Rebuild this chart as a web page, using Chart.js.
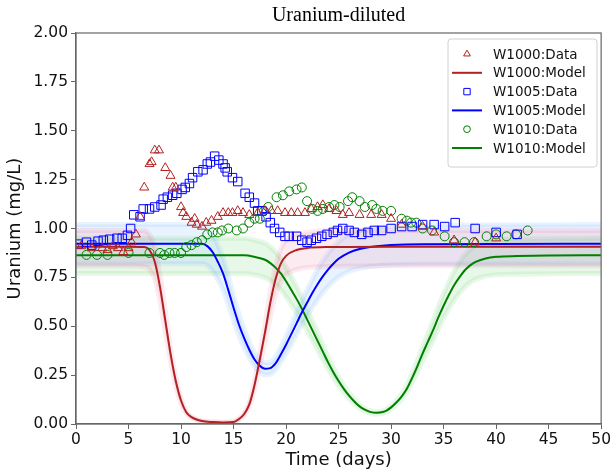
<!DOCTYPE html>
<html>
<head>
<meta charset="utf-8">
<script src="https://cdn.jsdelivr.net/npm/chart.js@4.4.0/dist/chart.umd.min.js"></script>
<style>
  html, body { margin: 0; padding: 0; background: #fff; }
</style>
</head>
<body>
<canvas id="chart" width="613" height="475"></canvas>
<script>
// Titel und Achsen
const chartTitle = "Uranium-diluted";
const xTitle = "Time (days)";
const yTitle = "Uranium (mg/L)";

// Messwerte [Tag, mg/L]
const w1000Data = [[0.5,0.91],[1.5,0.90],[2.5,0.90],[3.0,0.89],[3.5,0.91],[4.0,0.90],[4.5,0.88],[5.0,0.90],[5.3,0.93],[5.7,0.97],
  [6.1,1.06],[6.5,1.21],[7.0,1.33],[7.2,1.34],[7.5,1.40],[7.9,1.40],[8.5,1.31],[9.0,1.27],[9.2,1.21],[9.5,1.21],[10.0,1.11],
  [10.2,1.08],[10.5,1.06],[11.0,1.03],[11.3,1.05],[11.5,1.02],[12.0,1.01],[12.4,1.03],[12.9,1.04],[13.5,1.06],[14.0,1.08],
  [14.5,1.08],[14.9,1.08],[15.4,1.09],[15.9,1.08],[16.5,1.07],[17.3,1.08],[18.0,1.09],[18.6,1.09],[19.2,1.09],[19.9,1.08],
  [20.5,1.08],[21.1,1.08],[21.8,1.08],[22.4,1.10],[23.0,1.11],[23.5,1.12],[24.1,1.10],[24.8,1.09],[25.4,1.07],[26.0,1.08],
  [27.0,1.07],[28.1,1.07],[29.1,1.07],[30.0,1.05],[31.0,1.02],[33.0,1.01],[34.1,0.98],[36.0,0.94],[38.0,0.93],[40.0,0.95]];

const w1005Data = [[0.2,0.92],[1.0,0.93],[1.5,0.915],[2.1,0.935],[2.6,0.94],[3.2,0.945],[3.9,0.95],[4.4,0.95],[4.9,0.965],[5.2,1.0],
  [5.5,1.07],[6.1,1.06],[6.4,1.10],[7.0,1.10],[7.5,1.11],[8.1,1.12],[8.3,1.15],[8.7,1.16],[9.2,1.17],[9.6,1.18],[10.1,1.20],
  [10.4,1.21],[10.8,1.23],[11.1,1.26],[11.6,1.29],[12.1,1.30],[12.5,1.33],[12.8,1.34],[13.2,1.37],[13.6,1.35],[14.0,1.33],
  [14.2,1.31],[14.4,1.29],[14.9,1.26],[15.4,1.24],[16.1,1.18],[16.5,1.16],[17.0,1.13],[17.3,1.09],[17.7,1.09],[18.1,1.06],
  [18.5,1.03],[18.9,1.00],[19.4,0.98],[19.9,0.96],[20.3,0.96],[21.0,0.96],[21.5,0.94],[22.0,0.93],[22.4,0.94],[22.9,0.95],
  [23.4,0.96],[23.9,0.97],[24.5,0.98],[24.9,0.99],[25.4,1.00],[26.0,0.99],[26.5,0.98],[27.2,0.97],[27.8,0.98],[28.4,0.99],
  [29.1,0.99],[30.0,1.00],[31.0,1.01],[32.0,1.01],[33.0,1.02],[34.1,1.02],[35.1,1.01],[36.1,1.03],[38.0,1.00],[40.0,0.98],[42.0,0.97]];

const w1010Data = [[1.0,0.865],[2.0,0.865],[3.0,0.865],[5.0,0.875],[7.0,0.875],[8.0,0.875],[8.4,0.865],[8.9,0.875],[9.4,0.875],
  [10.0,0.875],[10.5,0.905],[11.0,0.915],[11.5,0.93],[12.0,0.94],[12.5,0.97],[13.0,0.98],[13.5,0.98],[13.9,0.99],[14.5,1.00],
  [15.3,0.99],[15.9,1.00],[16.5,1.03],[17.0,1.05],[17.5,1.05],[17.9,1.09],[18.3,1.11],[19.1,1.16],[19.7,1.17],[20.3,1.19],
  [21.0,1.20],[21.5,1.21],[22.0,1.14],[22.5,1.10],[23.0,1.09],[23.5,1.10],[24.1,1.11],[24.6,1.12],[25.1,1.11],[25.9,1.14],
  [26.3,1.16],[27.0,1.14],[27.5,1.11],[28.2,1.12],[28.6,1.10],[29.2,1.09],[30.0,1.09],[31.0,1.05],[31.5,1.04],[31.9,1.03],
  [32.4,1.03],[33.0,1.00],[33.9,0.99],[35.1,0.96],[36.0,0.93],[37.0,0.93],[37.9,0.93],[39.1,0.96],[40.0,0.97],[41.0,0.96],
  [41.9,0.97],[43.0,0.99]];

// Modellkurven und Unsicherheitsband [Tag, mg/L]
const w1000Model = [[0,0.907],[5,0.907],[6.5,0.905],[7.0,0.89],[7.5,0.83],[8.0,0.70],[8.5,0.53],[9.0,0.36],[9.5,0.22],[10.0,0.12],
  [10.5,0.06],[11.0,0.035],[12.0,0.015],[13.0,0.01],[14.0,0.008],[15.0,0.01],[15.5,0.025],[16.0,0.05],[16.5,0.10],[17.0,0.20],
  [17.5,0.33],[18.0,0.47],[18.5,0.62],[19.0,0.74],[19.5,0.82],[20.0,0.86],[21.0,0.89],[22.0,0.90],[24.0,0.905],[30.0,0.907],[50,0.907]];
const w1000Upper = [[0,0.99],[5,0.99],[6.5,0.99],[7.0,0.97],[7.5,0.905],[8.0,0.765],[8.5,0.58],[9.0,0.39],[9.5,0.24],[10.0,0.13],
  [10.5,0.065],[11.0,0.038],[12.0,0.016],[13.0,0.011],[14.0,0.009],[15.0,0.011],[15.5,0.027],[16.0,0.055],[16.5,0.11],[17.0,0.22],
  [17.5,0.36],[18.0,0.51],[18.5,0.675],[19.0,0.81],[19.5,0.895],[20.0,0.94],[21.0,0.97],[22.0,0.98],[24.0,0.99],[30.0,0.99],[50,0.99]];
const w1000Lower = [[0,0.81],[5,0.81],[6.5,0.805],[7.0,0.79],[7.5,0.74],[8.0,0.625],[8.5,0.47],[9.0,0.32],[9.5,0.195],[10.0,0.107],
  [10.5,0.053],[11.0,0.031],[12.0,0.013],[13.0,0.009],[14.0,0.007],[15.0,0.009],[15.5,0.022],[16.0,0.045],[16.5,0.089],[17.0,0.178],
  [17.5,0.294],[18.0,0.42],[18.5,0.55],[19.0,0.66],[19.5,0.73],[20.0,0.765],[21.0,0.79],[22.0,0.80],[24.0,0.805],[30.0,0.81],[50,0.81]];

const w1005Model = [[0,0.922],[12.0,0.922],[12.5,0.91],[13.0,0.88],[13.5,0.83],[14.0,0.77],[14.5,0.685],[15.0,0.595],[15.5,0.51],
  [16.0,0.44],[16.5,0.38],[17.0,0.33],[17.5,0.298],[18.0,0.283],[18.5,0.286],[19.0,0.31],[19.5,0.355],[20.0,0.405],[20.5,0.46],
  [21.0,0.515],[21.5,0.57],[22.0,0.62],[22.5,0.67],[23.0,0.715],[23.5,0.755],[24.0,0.79],[24.5,0.82],[25.0,0.845],[26.0,0.877],
  [27.0,0.895],[28.0,0.905],[30.0,0.915],[33.0,0.92],[50,0.922]];
const w1005Upper = [[0,1.02],[12.0,1.02],[12.5,1.005],[13.0,0.972],[13.5,0.917],[14.0,0.851],[14.5,0.757],[15.0,0.657],[15.5,0.564],
  [16.0,0.486],[16.5,0.42],[17.0,0.365],[17.5,0.329],[18.0,0.313],[18.5,0.316],[19.0,0.343],[19.5,0.392],[20.0,0.448],[20.5,0.508],
  [21.0,0.569],[21.5,0.63],[22.0,0.685],[22.5,0.74],[23.0,0.79],[23.5,0.834],[24.0,0.873],[24.5,0.906],[25.0,0.934],[26.0,0.969],
  [27.0,0.989],[28.0,1.0],[30.0,1.011],[33.0,1.017],[50,1.02]];
const w1005Lower = [[0,0.82],[12.0,0.82],[12.5,0.81],[13.0,0.783],[13.5,0.739],[14.0,0.685],[14.5,0.61],[15.0,0.53],[15.5,0.454],
  [16.0,0.392],[16.5,0.338],[17.0,0.294],[17.5,0.265],[18.0,0.252],[18.5,0.255],[19.0,0.276],[19.5,0.316],[20.0,0.36],[20.5,0.409],
  [21.0,0.458],[21.5,0.507],[22.0,0.552],[22.5,0.596],[23.0,0.636],[23.5,0.672],[24.0,0.703],[24.5,0.73],[25.0,0.752],[26.0,0.781],
  [27.0,0.797],[28.0,0.805],[30.0,0.814],[33.0,0.819],[50,0.82]];

const w1010Model = [[0,0.863],[16.0,0.863],[17.0,0.855],[18.0,0.84],[18.5,0.823],[19.0,0.80],[19.5,0.77],[20.0,0.73],[20.5,0.685],
  [21.0,0.64],[21.5,0.59],[22.0,0.535],[22.5,0.48],[23.0,0.425],[23.5,0.37],[24.0,0.315],[24.5,0.265],[25.0,0.22],[25.5,0.18],
  [26.0,0.145],[26.5,0.115],[27.0,0.09],[27.5,0.073],[28.0,0.062],[28.6,0.057],[29.2,0.061],[29.6,0.07],[30.0,0.085],[30.5,0.11],
  [31.0,0.14],[31.5,0.18],[32.0,0.235],[32.5,0.295],[33.0,0.36],[33.5,0.42],[34.0,0.48],[34.5,0.545],[35.0,0.605],[35.5,0.66],
  [36.0,0.71],[36.5,0.75],[37.0,0.785],[37.5,0.81],[38.0,0.828],[39.0,0.847],[40.0,0.855],[42.0,0.859],[45.0,0.862],[50,0.863]];
const w1010Upper = [[0,0.95],[16.0,0.95],[17.0,0.94],[18.0,0.924],[18.5,0.905],[19.0,0.88],[19.5,0.847],[20.0,0.803],[20.5,0.754],
  [21.0,0.704],[21.5,0.649],[22.0,0.589],[22.5,0.528],[23.0,0.468],[23.5,0.407],[24.0,0.347],[24.5,0.292],[25.0,0.242],[25.5,0.198],
  [26.0,0.16],[26.5,0.127],[27.0,0.099],[27.5,0.08],[28.0,0.068],[28.6,0.063],[29.2,0.067],[29.6,0.077],[30.0,0.094],[30.5,0.121],
  [31.0,0.154],[31.5,0.198],[32.0,0.259],[32.5,0.325],[33.0,0.396],[33.5,0.462],[34.0,0.528],[34.5,0.6],[35.0,0.666],[35.5,0.726],
  [36.0,0.781],[36.5,0.825],[37.0,0.864],[37.5,0.891],[38.0,0.911],[39.0,0.932],[40.0,0.941],[42.0,0.945],[45.0,0.948],[50,0.95]];
const w1010Lower = [[0,0.77],[16.0,0.77],[17.0,0.763],[18.0,0.749],[18.5,0.734],[19.0,0.714],[19.5,0.687],[20.0,0.651],[20.5,0.611],
  [21.0,0.571],[21.5,0.526],[22.0,0.477],[22.5,0.428],[23.0,0.379],[23.5,0.33],[24.0,0.281],[24.5,0.236],[25.0,0.196],[25.5,0.161],
  [26.0,0.129],[26.5,0.103],[27.0,0.08],[27.5,0.065],[28.0,0.055],[28.6,0.051],[29.2,0.054],[29.6,0.062],[30.0,0.076],[30.5,0.098],
  [31.0,0.125],[31.5,0.161],[32.0,0.21],[32.5,0.263],[33.0,0.321],[33.5,0.375],[34.0,0.428],[34.5,0.486],[35.0,0.54],[35.5,0.589],
  [36.0,0.633],[36.5,0.669],[37.0,0.7],[37.5,0.723],[38.0,0.739],[39.0,0.756],[40.0,0.763],[42.0,0.766],[45.0,0.769],[50,0.77]];

const RED = "#b22222", BLUE = "#0000ff", GREEN = "#008000";
const toPts = (arr) => arr.map(([x, y]) => ({x: x, y: y}));

function band(upper, lower, color) {
    return [
        {label: "", data: toPts(upper), showLine: true, fill: "+1", backgroundColor: color,
         borderColor: color, borderWidth: 5, pointRadius: 0, cubicInterpolationMode: "monotone", order: 3},
        {label: "", data: toPts(lower), showLine: true, fill: false,
         borderColor: color, borderWidth: 5, pointRadius: 0, cubicInterpolationMode: "monotone", order: 3},
    ];
}
function model(label, arr, color) {
    return {label: label, data: toPts(arr), showLine: true, fill: false, borderColor: color, borderWidth: 2,
            pointRadius: 0, cubicInterpolationMode: "monotone", order: 2};
}
function points(label, arr, color, style, radius) {
    return {label: label, data: toPts(arr), showLine: false, borderColor: color, backgroundColor: "rgba(0,0,0,0)",
            borderWidth: 1, pointStyle: style, pointRadius: radius, order: 1};
}

const datasets = [
    ...band(w1000Upper, w1000Lower, "rgba(230,100,140,0.13)"),
    ...band(w1005Upper, w1005Lower, "rgba(100,170,255,0.14)"),
    ...band(w1010Upper, w1010Lower, "rgba(100,210,100,0.15)"),
    points("W1000:Data", w1000Data, RED, "triangle", 5.2),
    model("W1000:Model", w1000Model, RED),
    points("W1005:Data", w1005Data, BLUE, "rect", 6),
    model("W1005:Model", w1005Model, BLUE),
    points("W1010:Data", w1010Data, GREEN, "circle", 4.5),
    model("W1010:Model", w1010Model, GREEN),
];

// Rahmen, Titel und Legende im Plotbereich
const framePlugin = {
    id: "frame",
    afterDraw(chart) {
        const ctx = chart.ctx;
        const a = chart.chartArea;
        ctx.save();
        ctx.strokeStyle = "#666";
        ctx.lineWidth = 1.2;
        ctx.strokeRect(a.left, a.top, a.right - a.left, a.bottom - a.top);

        ctx.fillStyle = "#000";
        ctx.font = "20px 'Liberation Serif', 'Times New Roman', serif";
        ctx.textAlign = "center";
        ctx.textBaseline = "middle";
        ctx.fillText(chartTitle, (a.left + a.right) / 2, 16);

        // Legende
        const lx = 448, ly = 39, lw = 149, lh = 128;
        ctx.beginPath();
        ctx.roundRect(lx, ly, lw, lh, 3);
        ctx.fillStyle = "rgba(255,255,255,0.8)";
        ctx.fill();
        ctx.strokeStyle = "#d0d0d0";
        ctx.lineWidth = 1;
        ctx.stroke();
        const items = chart.data.datasets.filter((d) => d.label !== "");
        ctx.font = "13.5px 'DejaVu Sans', sans-serif";
        ctx.textAlign = "left";
        items.forEach((d, i) => {
            const y = 54 + i * 18.8;
            if (d.showLine) {
                ctx.strokeStyle = d.borderColor;
                ctx.lineWidth = 2;
                ctx.beginPath();
                ctx.moveTo(452, y);
                ctx.lineTo(482, y);
                ctx.stroke();
            } else {
                ctx.strokeStyle = d.borderColor;
                ctx.fillStyle = "rgba(0,0,0,0)";
                ctx.lineWidth = 1;
                Chart.helpers.drawPoint(ctx, {pointStyle: d.pointStyle, radius: d.pointRadius * 0.75, borderWidth: 1.5}, 467, y);
            }
            ctx.fillStyle = "#111";
            ctx.fillText(d.label, 493, y + 1);
        });
        ctx.restore();
    }
};

const tickFont = {family: "'DejaVu Sans', sans-serif", size: 15.5};
const titleFont = {family: "'DejaVu Sans', sans-serif", size: 18};

new Chart(document.getElementById("chart"), {
    type: "scatter",
    data: {datasets: datasets},
    options: {
        responsive: false,
        animation: false,
        devicePixelRatio: 1,
        layout: {padding: {top: 33, right: 11, left: 0, bottom: 0}},
        plugins: {
            legend: {display: false},
            title: {display: false},
            tooltip: {enabled: false},
        },
        scales: {
            x: {
                type: "linear", min: 0, max: 50,
                ticks: {stepSize: 5, font: tickFont, color: "#111", padding: 2, maxRotation: 0},
                grid: {drawOnChartArea: false, drawTicks: true, tickLength: 5, color: "#666"},
                border: {display: true, color: "#666", width: 1.2},
                title: {display: true, text: xTitle, font: titleFont, color: "#111", padding: {top: 0, bottom: 4}},
                afterFit(scale) { scale.height = 51; },
            },
            y: {
                type: "linear", min: 0, max: 2,
                ticks: {stepSize: 0.25, font: tickFont, color: "#111", padding: 3,
                        callback: (v) => v.toFixed(2)},
                grid: {drawOnChartArea: false, drawTicks: true, tickLength: 5, color: "#666"},
                border: {display: true, color: "#666", width: 1.2},
                title: {display: true, text: yTitle, font: titleFont, color: "#111", padding: {top: 5, bottom: 0}},
                afterFit(scale) { scale.width = 76; },
            },
        },
    },
    plugins: [framePlugin],
});
</script>
</body>
</html>
